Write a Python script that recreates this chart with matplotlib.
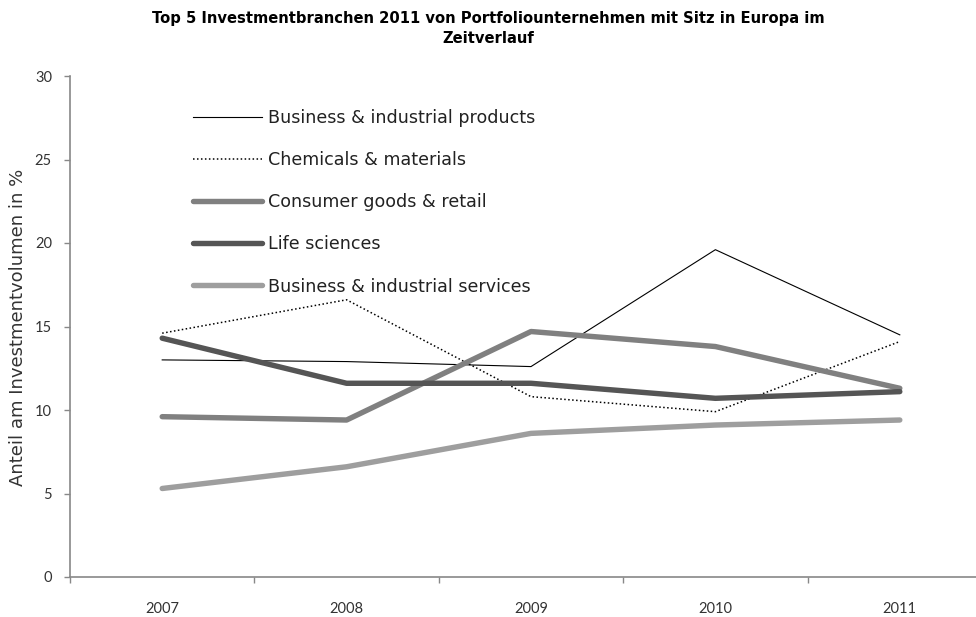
import matplotlib
matplotlib.use("Agg")
import matplotlib.pyplot as plt
import numpy as np

years = ["2007", "2008", "2009", "2010", "2011"]
series_names = ["Business & industrial products", "Chemicals & materials",
                "Consumer goods & retail", "Life sciences",
                "Business & industrial services"]
business_products = [13.0, 12.9, 12.6, 19.6, 14.5]
chemicals = [14.6, 16.6, 10.8, 9.9, 14.1]
consumer = [9.6, 9.4, 14.7, 13.8, 11.3]
life_sciences = [14.3, 11.6, 11.6, 10.7, 11.1]
services = [5.3, 6.6, 8.6, 9.1, 9.4]
yticks = [0, 5, 10, 15, 20, 25, 30]

W, H = 976, 617
fig = plt.figure(figsize=(W / 100, H / 100), dpi=100)
plt.rcParams['font.family'] = ['Lato', 'DejaVu Sans']

left, right, top, bottom = 70, 992, 76, 577
ax = fig.add_axes([left / W, 1 - bottom / H, (right - left) / W, (bottom - top) / H])

x = np.arange(len(years))
styles = [
    dict(color="black", lw=0.8, ls="-"),
    dict(color="black", lw=1.1, ls=(0, (1, 1.6))),
    dict(color="#808080", lw=3.9, ls="-", solid_capstyle="round"),
    dict(color="#555555", lw=3.9, ls="-", solid_capstyle="round"),
    dict(color="#9e9e9e", lw=3.9, ls="-", solid_capstyle="round"),
]
data = [business_products, chemicals, consumer, life_sciences, services]
for name, vals, st in zip(series_names, data, styles):
    ax.plot(x, vals, label=name, **st)

ax.set_xlim(-0.5, 4.5)
ax.set_ylim(0, 30)
ax.set_yticks(yticks)
ax.set_yticklabels([str(v) for v in yticks])
ax.set_xticks(np.arange(-0.5, 5.0, 1.0))
ax.set_xticklabels([])
ax.set_xticks(x, minor=True)
ax.set_xticklabels(years, minor=True)

axis_col = "#888888"
for s in ["top", "right"]:
    ax.spines[s].set_visible(False)
for s in ["left", "bottom"]:
    ax.spines[s].set_color(axis_col)
    ax.spines[s].set_linewidth(1.2)
ax.tick_params(axis="y", which="major", direction="out", length=4, width=1, color=axis_col,
               labelsize=10.5, labelcolor="#333333", pad=9)
ax.tick_params(axis="x", which="major", direction="out", length=4, width=1, color=axis_col)
ax.tick_params(axis="x", which="minor", length=0, labelsize=10.5, labelcolor="#333333", pad=18)

fig.text(18 / W, 1 - 327 / H, "Anteil am Investmentvolumen in %", rotation=90,
         ha="center", va="center", fontsize=13.0, color="#333333",
         family=["DejaVu Sans"])

fig.text(488 / W, 1 - 28.5 / H,
         "Top 5 Investmentbranchen 2011 von Portfoliounternehmen mit Sitz in Europa im\nZeitverlauf",
         ha="center", va="center", fontsize=10.65, fontweight="bold", linespacing=1.35,
         family=["DejaVu Sans"])

leg = ax.legend(loc="upper left", bbox_to_anchor=(193 / W, 1 - 109 / H),
                bbox_transform=fig.transFigure, frameon=False,
                prop={"family": ["DejaVu Sans"], "size": 12.6},
                handlelength=3.95, handletextpad=0.34, labelspacing=1.38,
                borderpad=0, borderaxespad=0)
for t in leg.get_texts():
    t.set_color("#222222")

fig.savefig("out.png", dpi=100)
